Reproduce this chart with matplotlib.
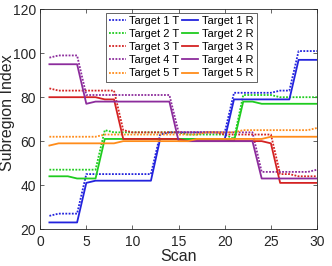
import matplotlib
matplotlib.use("Agg")
import matplotlib.pyplot as plt

plt.rcParams["font.family"] = ["Liberation Sans", "DejaVu Sans"]

scans = list(range(1, 31))

# Transmit (T) and received (R) subregion index per target
t1_T = [26, 27, 27, 27, 45, 45, 45, 45, 45, 45, 45, 45, 63, 64, 64,
        64, 64, 64, 64, 64, 82, 82, 82, 82, 82, 83, 83, 101, 101, 101]
t1_R = [23, 23, 23, 23, 41, 42, 42, 42, 42, 42, 42, 42, 61, 61, 61,
        61, 61, 61, 61, 61, 79, 79, 79, 79, 79, 79, 79, 97, 97, 97]
t2_T = [47, 47, 47, 47, 47, 47, 65, 64, 64, 64, 64, 64, 64, 64, 64,
        63, 63, 63, 63, 63, 61, 81, 81, 81, 81, 80, 80, 80, 80, 80]
t2_R = [44, 44, 44, 43, 43, 43, 61, 61, 61, 61, 61, 61, 61, 61, 61,
        61, 61, 61, 61, 61, 60, 78, 78, 77, 77, 77, 77, 77, 77, 77]
t3_T = [84, 83, 83, 83, 83, 83, 83, 83, 65, 64, 64, 64, 64, 64, 64,
        64, 64, 64, 64, 63, 63, 63, 63, 63, 63, 45, 45, 44, 44, 44]
t3_R = [80, 80, 80, 80, 80, 80, 79, 79, 61, 61, 61, 61, 61, 61, 61,
        60, 60, 60, 60, 60, 60, 60, 60, 60, 59, 41, 41, 41, 41, 41]
t4_T = [98, 99, 99, 99, 81, 81, 81, 81, 81, 81, 81, 81, 81, 81, 64,
        64, 64, 64, 64, 64, 64, 64, 64, 46, 46, 46, 46, 46, 46, 47]
t4_R = [95, 95, 95, 95, 77, 78, 78, 78, 78, 78, 78, 78, 78, 78, 60,
        60, 60, 60, 60, 60, 60, 60, 60, 43, 43, 43, 43, 43, 43, 43]
t5_T = [62, 62, 62, 62, 62, 62, 63, 63, 63, 63, 63, 63, 63, 63, 63,
        63, 63, 64, 64, 64, 64, 65, 65, 65, 65, 65, 65, 65, 65, 66]
t5_R = [58, 59, 59, 59, 59, 59, 59, 59, 60, 60, 60, 60, 60, 60, 60,
        60, 61, 61, 61, 61, 61, 61, 61, 61, 62, 62, 62, 62, 62, 62]

labels = ["Target 1", "Target 2", "Target 3", "Target 4", "Target 5"]
colors = ["#2323dd", "#1fcc1f", "#d42222", "#8c2c9c", "#ff8c1a"]
series_T = [t1_T, t2_T, t3_T, t4_T, t5_T]
series_R = [t1_R, t2_R, t3_R, t4_R, t5_R]

fig = plt.figure(figsize=(3.32, 2.66), dpi=100)
ax = fig.add_axes([0.121, 0.139, 0.834, 0.826])

# T lines first (left legend column), then R lines
for lab, col, y in zip(labels, colors, series_T):
    ax.plot(scans, y, linestyle=(0, (1, 0.8)), color=col, linewidth=1.3,
            label=lab + " T")
for lab, col, y in zip(labels, colors, series_R):
    ax.plot(scans, y, linestyle="-", color=col, linewidth=1.3,
            label=lab + " R")

ax.set_xlim(0, 30)
ax.set_ylim(20, 120)
ax.set_xticks([0, 5, 10, 15, 20, 25, 30])
ax.set_yticks([20, 40, 60, 80, 100, 120])
ax.set_xlabel("Scan", fontsize=11.5, color="#262626", labelpad=0)
ax.set_ylabel("Subregion Index", fontsize=11.5, color="#262626")
ax.yaxis.set_label_coords(-0.092, 0.53)
ax.tick_params(direction="in", length=3, width=0.5, labelsize=10,
               colors="#262626", top=True, right=True)
ax.tick_params(axis="x", pad=4)
ax.tick_params(axis="y", pad=3)
for sp in ax.spines.values():
    sp.set_linewidth(0.6)
    sp.set_color("#262626")

leg = ax.legend(ncol=2, loc="upper center", bbox_to_anchor=(0.51, 0.995),
                fontsize=8, handlelength=1.45, handletextpad=0.3,
                columnspacing=0.3, labelspacing=0.28, borderpad=0.3,
                borderaxespad=0.2, fancybox=False, framealpha=1)
leg.get_frame().set_edgecolor("#262626")
leg.get_frame().set_linewidth(0.5)

fig.savefig("out.png", dpi=100)
